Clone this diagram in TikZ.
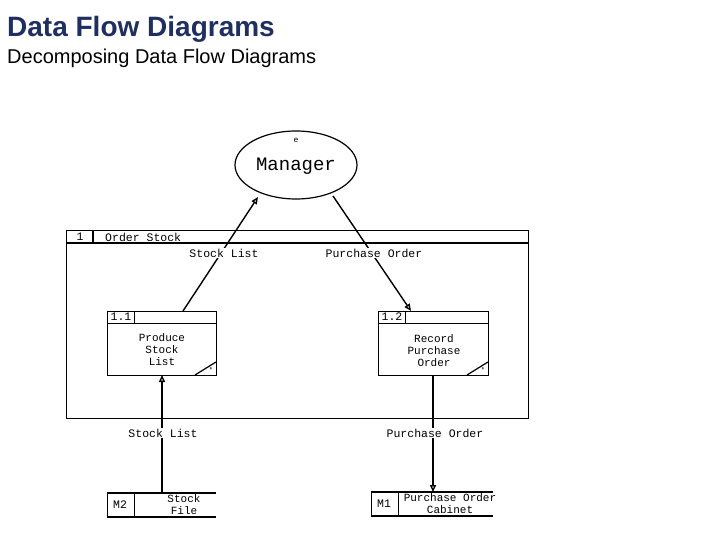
\documentclass[tikz,border=0pt]{standalone}
\usepackage{fontspec}
\setmainfont{Liberation Sans}
\newfontfamily\monof{Liberation Mono}
\usetikzlibrary{arrows.meta,shapes.geometric}
\definecolor{navy}{HTML}{1F2F5F}
\begin{document}
\begin{tikzpicture}[x=1pt,y=-1pt,
  mono/.style={font=\monof\fontsize{11.5}{12.5}\selectfont,inner sep=1pt,align=center},
  flow/.style={line width=1.4pt,-{Triangle[open,length=7pt,width=6pt]}},
  lab/.style={mono,fill=white},
  box/.style={draw,line width=0.8pt}]
\useasboundingbox (0,0) rectangle (720,540);
\node[anchor=base west,inner sep=0,font=\bfseries\fontsize{28}{32}\selectfont,text=navy] (t) at (7,37) {Data Flow Diagrams};
\node[anchor=base west,inner sep=0,font=\fontsize{20}{24}\selectfont] (st) at (7,64) {Decomposing Data Flow Diagrams};
% Manager
\node[draw,ellipse,line width=1.2pt,minimum width=122pt,minimum height=68pt] (mgr) at (296,165) {};
\node[mono,font=\monof\fontsize{8}{9}\selectfont] (e) at (296,140) {e};
\node[mono,font=\monof\fontsize{19}{20}\selectfont] (mt) at (296,166) {Manager};
% big box
\draw[box] (66,230) rectangle (528,418);
\draw[line width=1.2pt] (66,243) -- (528,243);
\draw[line width=1.2pt] (93,230) -- (93,243);
\node[mono] (n1) at (80,237) {1};
\node[mono,anchor=west] (os) at (104,237) {Order Stock};
% process 1.1
\draw[box] (107,311) rectangle (216,375);
\draw[box] (107,323) -- (216,323); \draw[box] (134,311) -- (134,323);
\node[mono] (p11) at (121,317) {1.1};
\node[mono,font=\monof\fontsize{11}{12}\selectfont] (pt1) at (162,350) {Produce\\Stock\\List};
\draw[line width=1.2pt] (195,375) -- (216,362);
\node[font=\monof\fontsize{7}{7}\selectfont,inner sep=0] (s1) at (211,370) {*};
% process 1.2
\draw[box] (378,311) rectangle (488,375);
\draw[box] (378,323) -- (488,323); \draw[box] (405,311) -- (405,323);
\node[mono] (p12) at (392,317) {1.2};
\node[mono,font=\monof\fontsize{11}{12}\selectfont] (pt2) at (434,351) {Record\\Purchase\\Order};
\draw[line width=1.2pt] (467,375) -- (488,362);
\node[font=\monof\fontsize{7}{7}\selectfont,inner sep=0] (s2) at (483,370) {*};
% stores
\draw[line width=1.4pt] (107,493) -- (216,493) (107,517) -- (216,517);
\draw[box] (107,493) -- (107,517) (134,493) -- (134,517);
\node[mono] (m2) at (120,505) {M2};
\node[mono,font=\monof\fontsize{11}{12}\selectfont] (sf) at (184,505) {Stock\\File};
\coordinate (m2top) at (162,493);
\draw[line width=1.4pt] (371,492) -- (493,492) (371,516) -- (493,516);
\draw[box] (371,492) -- (371,516) (398,492) -- (398,516);
\node[mono] (m1) at (384,504) {M1};
\node[mono,font=\monof\fontsize{11}{12}\selectfont] (poc) at (450,504) {Purchase Order\\Cabinet};
\coordinate (m1top) at (433,492);
% flows
\coordinate (a1) at (183,311); \coordinate (a1e) at (258,197);
\draw[flow] (a1) -- (a1e);
\node[lab] (l1) at (224,253) {Stock List};
\coordinate (a2) at (333,196); \coordinate (a2e) at (411,311);
\draw[flow] (a2) -- (a2e);
\node[lab] (l2) at (374,253) {Purchase Order};
\coordinate (a3e) at (162,375);
\draw[flow] (m2top) -- (a3e);
\node[lab] (l3) at (163,433) {Stock List};
\coordinate (a4) at (433,375);
\draw[flow] (a4) -- (m1top);
\node[lab] (l4) at (435,433) {Purchase Order};
\end{tikzpicture}
\end{document}
